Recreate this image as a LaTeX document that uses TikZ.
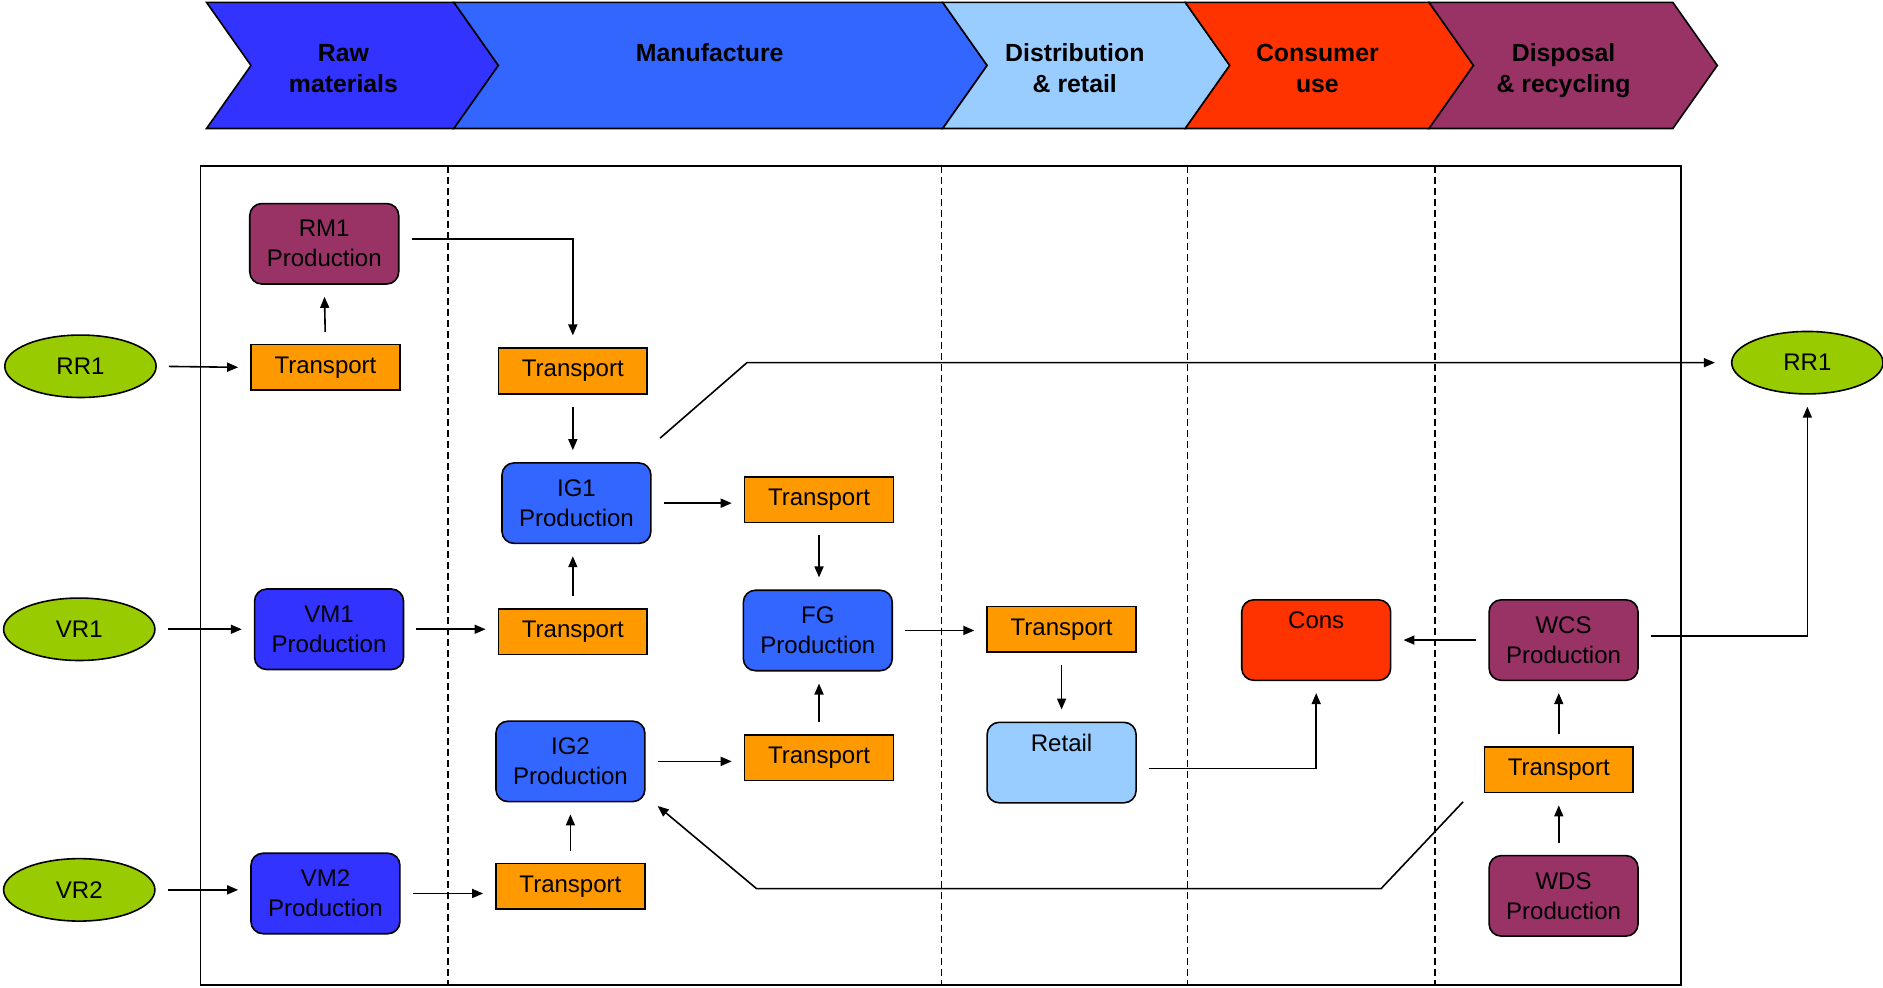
\documentclass[tikz,border=0pt]{standalone}
\usepackage{fontspec}
\setmainfont{Liberation Sans}
\usetikzlibrary{shapes.geometric, arrows.meta, positioning}

\definecolor{plum}{HTML}{993366}
\definecolor{rawblue}{HTML}{3333FF}
\definecolor{mfgblue}{HTML}{3366FF}
\definecolor{skyblue}{HTML}{99CCFF}
\definecolor{consred}{HTML}{FF3300}
\definecolor{trorange}{HTML}{FF9900}
\definecolor{resgreen}{HTML}{99CC00}

\begin{document}
\begin{tikzpicture}[x=0.6pt, y=-0.6pt,
    font=\fontsize{12}{15}\selectfont,
    prod/.style={draw, line width=0.8pt, rounded corners=6pt, minimum width=74.4pt, minimum height=40.2pt, inner sep=0pt, align=center},
    trans/.style={draw, line width=0.8pt, fill=trorange, minimum width=74.4pt, minimum height=22.8pt, inner sep=0pt},
    res/.style={draw, ellipse, line width=0.8pt, fill=resgreen, minimum width=75.6pt, minimum height=31.2pt, inner sep=0pt},
    flow/.style={-{Triangle[length=5.5pt,width=4.5pt]}, line width=0.8pt, shorten <=6pt, shorten >=6pt},
    stage/.style={draw, line width=0.8pt},
    stagetext/.style={font=\fontsize{12.4}{15.7}\selectfont\bfseries, align=center},
    lane/.style={dash pattern=on 3.5pt off 2pt, line width=0.65pt}]
          \useasboundingbox (0,0) rectangle (1568,822);

          % life cycle stages
          \foreach \l/\r/\col in {172/378/rawblue, 378/785/mfgblue, 785/987/skyblue, 987/1190/consred, 1190/1393/plum}
              \draw[stage, fill=\col] (\l,2) -- (\r,2) -- (\r+37,54.5) -- (\r,107) -- (\l,107) -- (\l+37,54.5) -- cycle;
          \node (hraw) [stagetext] at (286,59) {Raw\strut\\materials\strut};
          \node (hmfg) [stagetext] at (591,46) {Manufacture\strut};
          \node (hdis) [stagetext] at (895,59) {Distribution\strut\\\& retail\strut};
          \node (hcon) [stagetext] at (1097,59) {Consumer\strut\\use\strut};
          \node (hdsp) [stagetext] at (1302,59) {Disposal\strut\\\& recycling\strut};

          % frame and lanes
          \draw[line width=0.8pt] (167,138) rectangle (1400,820);
          \foreach \x in {373,784,989,1195}
              \draw[lane] (\x,138) -- (\x,820);

          % resources
          \node (rrin) [res] at (67,305) {RR1};
          \node (vr1) [res] at (66,524) {VR1};
          \node (vr2) [res] at (66,741) {VR2};
          \node (rrout) [res] at (1505,302) {RR1};

          % raw materials
          \node (rm1) [prod, fill=plum] at (270,203) {RM1\\Production};
          \node (trr) [trans] at (271,306) {Transport};
          \node (vm1) [prod, fill=rawblue] at (274,524) {VM1\\Production};
          \node (vm2) [prod, fill=rawblue] at (271,744) {VM2\\Production};

          % manufacture
          \node (tig1) [trans] at (477,309) {Transport};
          \node (ig1) [prod, fill=mfgblue] at (480,419) {IG1\\Production};
          \node (tvm1) [trans] at (477,526) {Transport};
          \node (ig2) [prod, fill=mfgblue] at (475,634) {IG2\\Production};
          \node (tvm2) [trans] at (475,738) {Transport};
          \node (tfg1) [trans] at (682,416) {Transport};
          \node (fg) [prod, fill=mfgblue] at (681,525) {FG\\Production};
          \node (tfg2) [trans] at (682,631) {Transport};

          % distribution, use, disposal
          \node (tret) [trans] at (884,524) {Transport};
          \node (retail) [prod, fill=skyblue] at (884,635) {Retail\\\strut};
          \node (cons) [prod, fill=consred] at (1096,533) {Cons\\\strut};
          \node (wcs) [prod, fill=plum] at (1302,533) {WCS\\Production};
          \node (twcs) [trans] at (1298,641) {Transport};
          \node (wds) [prod, fill=plum] at (1302,746) {WDS\\Production};

          \coordinate (ig1out) at ([shift={(7,-20)}]ig1.north east);
          \coordinate (kink) at (622,302);
          \coordinate (wback) at ([shift={(-17,7)}]twcs.south west);
          \coordinate (wlow) at (1150,740);
          \coordinate (mlow) at (630,740);
          \coordinate (ig2in) at ([shift={(10,3)}]ig2.south east);

          \path [flow]
              (rrin.east) edge (trr.west)
              (trr.north) edge (rm1.south)
              (vr1.east) edge (vm1.west)
              (vm1.east) edge (vm1.east -| tvm1.west)
              (tvm1.north) edge (tvm1.north |- ig1.south)
              (tig1.south) edge (tig1.south |- ig1.north)
              (ig1.east) edge (ig1.east -| tfg1.west)
              (tfg1.south) edge (tfg1.south |- fg.north)
              (tfg2.north) edge (tfg2.north |- fg.south)
              (ig2.east) edge (ig2.east -| tfg2.west)
              (vr2.east) edge (vr2.east -| vm2.west)
              (vm2.east) edge (vm2.east -| tvm2.west)
              (tvm2.north) edge (ig2.south)
              (fg.east) edge (fg.east -| tret.west)
              (tret.south) edge (retail.north)
              (wds.north -| twcs.south) edge (twcs.south)
              (twcs.north) edge (twcs.north |- wcs.south)
              (wcs.west) edge (cons.east)
              ;
          \draw[flow] ([yshift=2.4pt]rm1.east) -| (tig1.north);
          \draw[flow] ([yshift=-3pt]retail.east) -| (cons.south);
          \draw[flow] ([yshift=2pt]wcs.east) -| (rrout.south);
          \draw[flow, shorten <=0pt, shorten >=8pt] (ig1out) -- (kink) -- (rrout.west);
          \draw[flow, shorten <=0pt, shorten >=0pt] (wback) -- (wlow) -- (mlow) -- (ig2in);
      \end{tikzpicture}
\end{document}
